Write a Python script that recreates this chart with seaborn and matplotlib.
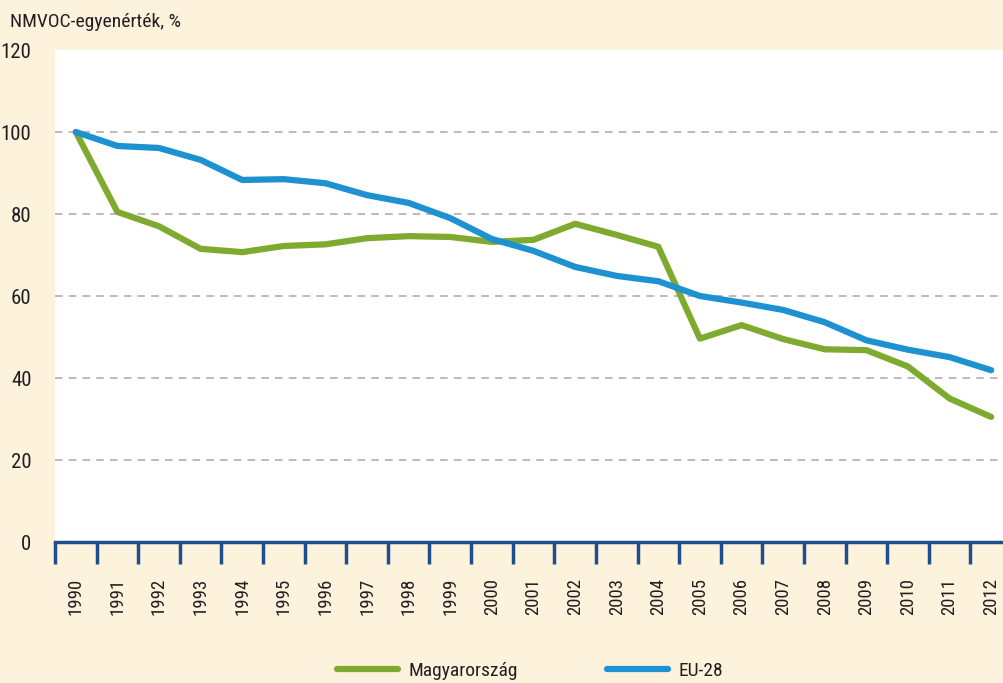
import matplotlib
matplotlib.use("Agg")
import matplotlib.pyplot as plt
import seaborn as sns
import pandas as pd
import numpy as np
from matplotlib import font_manager
from matplotlib.lines import Line2D

years = list(range(1990, 2013))
hungary = [100, 80.5, 77.0, 71.5, 70.7, 72.2, 72.6, 74.1, 74.6, 74.4, 73.2, 73.7,
           77.6, 74.9, 72.0, 49.6, 52.9, 49.5, 47.0, 46.8, 42.8, 35.0, 30.5]
eu28 = [100, 96.6, 96.1, 93.2, 88.3, 88.5, 87.5, 84.6, 82.7, 79.0, 73.9, 71.0,
        67.1, 64.9, 63.6, 60.0, 58.4, 56.6, 53.6, 49.2, 46.9, 45.1, 41.9]
series_names = ["Magyarország", "EU-28"]
yticks = [0, 20, 40, 60, 80, 100, 120]
ylabel = "NMVOC-egyenérték, %"

sns.set_theme(style="white")
available = {f.name for f in font_manager.fontManager.ttflist}
cands = ['Roboto Condensed', 'Liberation Sans Narrow', 'DejaVu Sans Condensed',
         'Open Sans Condensed', 'Roboto', 'DejaVu Sans']
fams = [c for c in cands if c in available] or ['DejaVu Sans']
plt.rcParams['font.family'] = fams

df = pd.DataFrame({
    "year": years * 2,
    "value": hungary + eu28,
    "series": [series_names[0]] * len(years) + [series_names[1]] * len(years),
})

bg = "#FDF2DC"
txt = "#231F20"
fig = plt.figure(figsize=(10.04, 6.83), dpi=100, facecolor=bg)
W, H = 1004, 683
left, right, top, bottom = 55, 1012, 50, 542
ax = fig.add_axes([left / W, (H - bottom) / H, (right - left) / W, (bottom - top) / H])
ax.set_facecolor("white")

palette = {series_names[0]: "#7EAA2F", series_names[1]: "#1E91D0"}
sns.lineplot(data=df, x="year", y="value", hue="series", palette=palette,
             linewidth=4.5, ax=ax, legend=False)

ax.set_xlim(years[0] - 0.5, years[-1] + 0.5)
ax.set_ylim(0, 120)
ax.set_yticks(yticks)
ax.set_yticklabels([str(v) for v in yticks], fontsize=15, color=txt)
for v in yticks[1:-1]:
    ax.axhline(v, color="#A8A8A8", lw=1.1, ls=(0, (5, 4)), zorder=0)

ax.set_xticks(years)
ax.set_xticklabels([str(y) for y in years], rotation=90, fontsize=13.5, color=txt)
ax.set_xticks([y - 0.5 for y in years] + [years[-1] + 0.5], minor=True)
ax.tick_params(axis="x", which="major", bottom=True, length=0, pad=26)
ax.tick_params(axis="x", which="minor", bottom=True, length=16, width=2.5,
               color="#1F4E8C", direction="out")
ax.tick_params(axis="y", left=True, length=0, pad=17)
for lbl in ax.get_xticklabels():
    lbl.set_verticalalignment("top")

for s in ["top", "right", "left"]:
    ax.spines[s].set_visible(False)
ax.spines["bottom"].set_color("#1F4E8C")
ax.spines["bottom"].set_linewidth(2.5)
ax.set_xlabel("")
ax.set_ylabel("")

fig.text(10 / W, 1 - 22 / H, ylabel, fontsize=14, color=txt, va="center", ha="left")

# legend
handles = [Line2D([0], [0], color=palette[n], lw=4.5) for n in series_names]
leg = fig.legend(handles, series_names, loc="center", bbox_to_anchor=(0.528, 1 - 671 / H),
                 ncol=2, frameon=False, fontsize=14, handlelength=3.1, columnspacing=4.6,
                 handletextpad=0.55)
for t in leg.get_texts():
    t.set_color(txt)

fig.savefig("out.png", dpi=100, facecolor=bg)
